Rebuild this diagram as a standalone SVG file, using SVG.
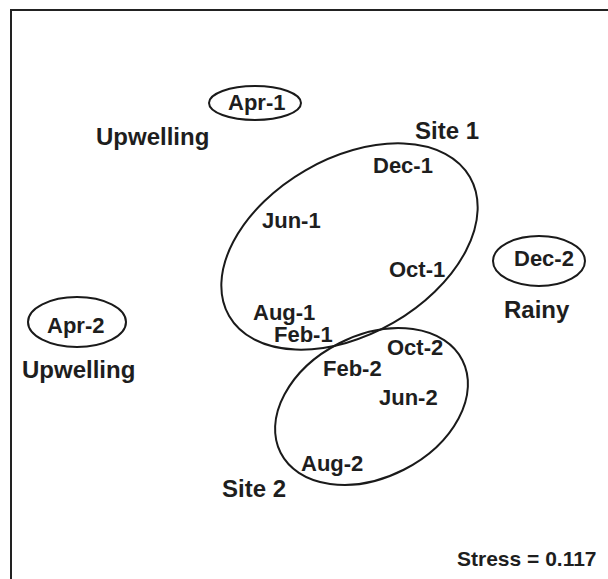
<svg xmlns="http://www.w3.org/2000/svg" width="608" height="579" viewBox="0 0 608 579">
<style>
.t{font-family:"Liberation Sans",Arial,sans-serif;font-weight:bold;fill:#1e1e1e}
.m{font-size:22px}
.c{font-size:24px}
.s{font-size:21px}
.e{fill:none;stroke:#1a1a1a;stroke-width:2}
</style>
<rect width="608" height="579" fill="#fff"/>
<g id="frame"><path d="M11,579 V10 H608" fill="none" stroke="#222" stroke-width="2"/></g>
<g id="connectors"></g>
<g id="group-site1"><ellipse class="e" cx="349.5" cy="246.5" rx="139" ry="88" transform="rotate(-30 349.5 246.5)"/><text class="t c" x="415" y="139">Site 1</text></g>
<g id="group-site2"><ellipse class="e" cx="371.5" cy="406.5" rx="102" ry="71" transform="rotate(-27 371.5 406.5)"/><text class="t c" x="222" y="497">Site 2</text></g>
<g id="apr1"><ellipse class="e" cx="255" cy="103" rx="46" ry="17"/><text class="t m" x="228" y="110">Apr-1</text></g>
<g id="upwelling1"><text class="t c" x="96" y="145">Upwelling</text></g>
<g id="apr2"><ellipse class="e" cx="77" cy="322" rx="49" ry="25"/><text class="t m" x="47" y="333">Apr-2</text></g>
<g id="upwelling2"><text class="t c" x="22" y="378">Upwelling</text></g>
<g id="dec2"><ellipse class="e" cx="539" cy="261" rx="46" ry="25"/><text class="t m" x="514" y="266">Dec-2</text></g>
<g id="rainy"><text class="t c" x="504" y="318">Rainy</text></g>
<g id="dec1"><text class="t m" x="373" y="173">Dec-1</text></g>
<g id="jun1"><text class="t m" x="262" y="228">Jun-1</text></g>
<g id="oct1"><text class="t m" x="389" y="277">Oct-1</text></g>
<g id="aug1"><text class="t m" x="253" y="320">Aug-1</text></g>
<g id="feb1"><text class="t m" x="274" y="342">Feb-1</text></g>
<g id="oct2"><text class="t m" x="387" y="355">Oct-2</text></g>
<g id="feb2"><text class="t m" x="323" y="376">Feb-2</text></g>
<g id="jun2"><text class="t m" x="379" y="405">Jun-2</text></g>
<g id="aug2"><text class="t m" x="301" y="471">Aug-2</text></g>
<g id="stress"><text class="t s" x="457" y="566">Stress = 0.117</text></g>
</svg>
